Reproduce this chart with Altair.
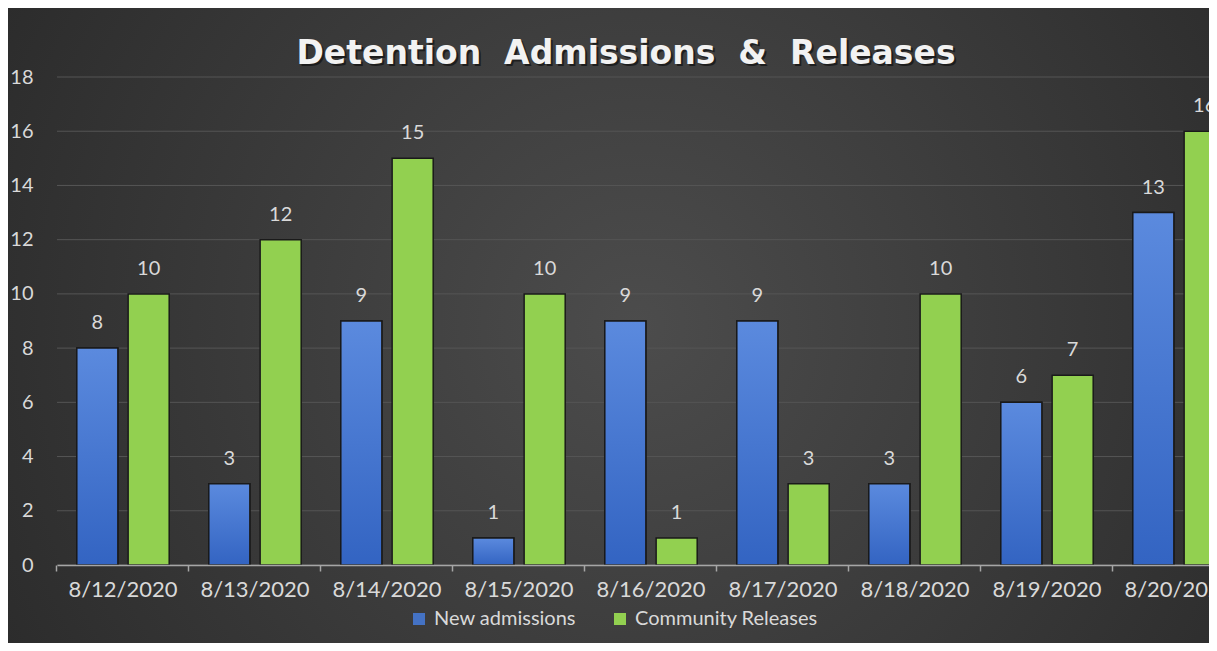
import altair as alt
import pandas as pd

dates = ["8/12/2020", "8/13/2020", "8/14/2020", "8/15/2020", "8/16/2020",
         "8/17/2020", "8/18/2020", "8/19/2020", "8/20/2020"]
new_admissions = [8, 3, 9, 1, 9, 9, 3, 6, 13]
community_releases = [10, 12, 15, 10, 1, 3, 10, 7, 16]
series_names = ["New admissions", "Community Releases"]
series_colors = ["#4472c4", "#92d050"]
y_ticks = [0, 2, 4, 6, 8, 10, 12, 14, 16, 18]
title_text = ["Detention\u00a0\u00a0Admissions\u00a0 &\u00a0 Releases"]

rows = []
for d, a, r in zip(dates, new_admissions, community_releases):
    rows.append({"date": d, "series": series_names[0], "value": a})
    rows.append({"date": d, "series": series_names[1], "value": r})
df = pd.DataFrame(rows)
grid_df = pd.DataFrame({"tick": y_ticks})
title_df = pd.DataFrame({"t": title_text})

W, H = 1152, 488
PL, PT, PB = 49, 69, 78
STEP = 132
FONT = "Lato"
TFONT = "DejaVu Sans"
TXT = "#d9d9d9"

x_enc = alt.X(
    "date:N", sort=dates,
    scale=alt.Scale(range=[0, STEP * len(dates)], paddingInner=0.3, paddingOuter=0.15),
    axis=alt.Axis(title=None, labelAngle=0, grid=False, zindex=1,
                  domainColor="#a6a6a6", domainWidth=1.5, tickColor="#a6a6a6",
                  tickWidth=1.5, tickSize=6, bandPosition=-0.2143,
                  labelFont=FONT, labelFontSize=22, labelColor=TXT, labelPadding=8),
)
xoff_enc = alt.XOffset("series:N", sort=series_names, scale=alt.Scale(paddingInner=0.2))
y_scale = alt.Scale(domain=[0, 18], nice=False)
y_enc = alt.Y(
    "value:Q", scale=y_scale,
    axis=alt.Axis(title=None, values=y_ticks, grid=False, domain=False, ticks=False, zindex=1,
                  labelFont=FONT, labelFontSize=20, labelColor=TXT, labelPadding=24),
)

bg = alt.Chart(alt.Data(values=[{"a": 1}])).mark_rect(
    fill=alt.RadialGradient(
        gradient="radial", x1=0.5, y1=0.5, r1=0, x2=0.5, y2=0.5, r2=0.72,
        stops=[alt.GradientStop(offset=0, color="#4c4c4c"),
               alt.GradientStop(offset=1, color="#232323")]),
).encode(x=alt.value(-PL), x2=alt.value(W + 60), y=alt.value(-PT), y2=alt.value(H + PB))

grid = alt.Chart(grid_df).mark_rule(color="#555555", strokeWidth=1).encode(
    y=alt.Y("tick:Q", scale=y_scale), x=alt.value(0), x2=alt.value(W + 60)
)

bars = alt.Chart(df).mark_bar(stroke="#1a1a1a", strokeWidth=1.5).encode(
    x=x_enc, xOffset=xoff_enc, y=y_enc,
    color=alt.Color("series:N", sort=series_names,
                    scale=alt.Scale(domain=series_names, range=series_colors),
                    legend=alt.Legend(title=None, orient="none", direction="horizontal",
                                      legendX=352, legendY=532, zindex=1,
                                      symbolType="square", symbolSize=144, symbolStrokeWidth=0,
                                      labelFont=FONT, labelFontSize=20, labelColor=TXT,
                                      labelLimit=400, labelOffset=5, columnPadding=34)),
)

blue = alt.Chart(df).transform_filter(alt.datum.series == series_names[0]).mark_bar(
    fill=alt.LinearGradient(
        gradient="linear", x1=0, y1=0, x2=0, y2=1,
        stops=[alt.GradientStop(offset=0, color="#5b8ade"),
               alt.GradientStop(offset=1, color="#3364c2")]),
    stroke="#1a1a1a", strokeWidth=1.5,
).encode(x=x_enc, xOffset=xoff_enc, y=y_enc)

labels = alt.Chart(df).mark_text(
    dy=-19, baseline="alphabetic", font=FONT, fontSize=20, color=TXT
).encode(x=x_enc, xOffset=xoff_enc, y=y_enc, text="value:Q")

title_shadow = alt.Chart(title_df).mark_text(
    font=TFONT, fontSize=33, fontWeight="bold", color="#111111", opacity=0.7,
    baseline="alphabetic", align="center", limit=2000,
).encode(x=alt.value(571), y=alt.value(-11), text="t:N")

title = alt.Chart(title_df).mark_text(
    font=TFONT, fontSize=33, fontWeight="bold", color="#f2f2f2",
    baseline="alphabetic", align="center", limit=2000,
).encode(x=alt.value(569), y=alt.value(-13), text="t:N")

chart = alt.layer(bg, grid, bars, blue, labels, title_shadow, title).properties(
    width=W, height=H,
    autosize=alt.AutoSizeParams(type="none"),
    padding={"left": PL, "top": PT, "right": 0, "bottom": PB},
).configure(background="#262626").configure_view(stroke=None)

chart.save("out.html", embed_options={"renderer": "svg", "actions": False})
